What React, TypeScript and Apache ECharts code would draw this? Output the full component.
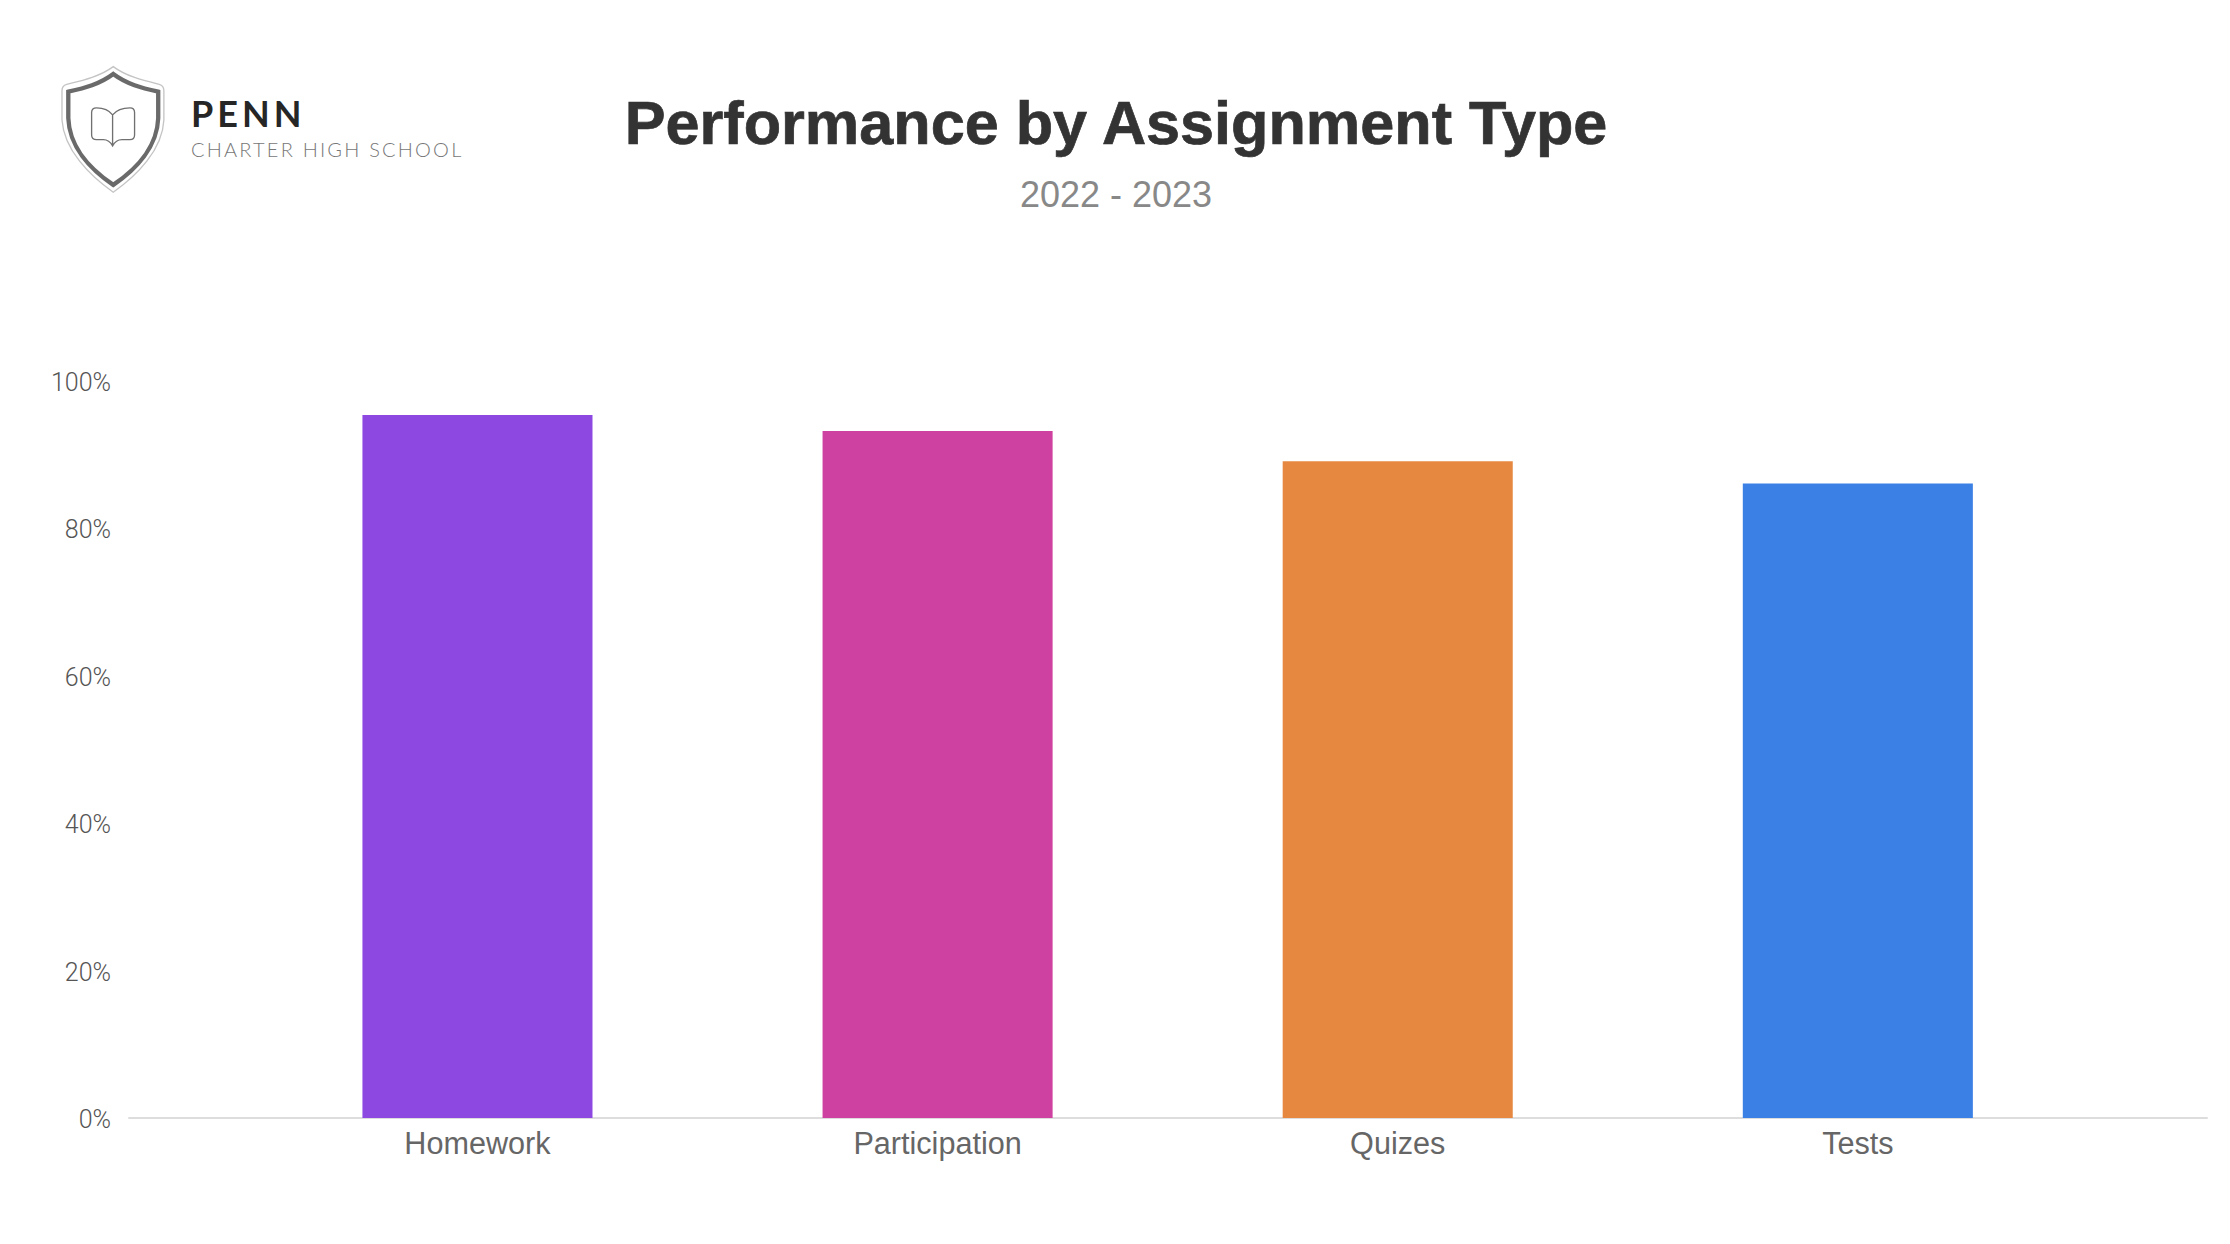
import React, { useEffect, useRef } from "react";
import * as echarts from "echarts";

const categories = ["Homework", "Participation", "Quizes", "Tests"];
const scores = [95.4, 93.2, 89.1, 86.1];
const barColors = ["#8E48E2", "#CF41A0", "#E6883F", "#3B80E4"];
const titleText = "Performance by Assignment Type";
const subtitleText = "2022 - 2023";
const logoName = "PENN";
const logoTagline = "CHARTER HIGH SCHOOL";

const shieldInner =
  "M220 72 C180 102 135 114 85 125 L85 205 C88 290 150 358 220 405 C290 358 352 290 355 205 L355 125 C305 114 260 102 220 72 Z";
const shieldOuter =
  "M220 50 C180 80 125 92 80 103 Q66 107 66 122 L66 210 C72 300 150 378 220 427 C290 378 368 300 372 210 L372 122 Q372 107 358 103 C313 92 260 80 220 50 Z";
const bookShape =
  "M218 195 C205 178 190 174 170 174 Q155 174 155 188 L155 255 Q155 269 170 269 L190 269 Q208 269 218 288 Q228 269 246 269 L270 269 Q284 269 284 255 L284 188 Q284 174 270 174 C248 174 232 178 218 195 Z M218 195 L218 286";

echarts.graphic.registerShape("shieldInner", (echarts.graphic as any).extendPath(shieldInner, {}));
echarts.graphic.registerShape("shieldOuter", (echarts.graphic as any).extendPath(shieldOuter, {}));
echarts.graphic.registerShape("bookShape", (echarts.graphic as any).extendPath(bookShape, {}));

export default function App() {
  const ref = useRef<HTMLDivElement>(null);
  useEffect(() => {
    document.body.style.margin = "0";
    document.body.style.background = "#fff";
    const chart = echarts.init(ref.current!, undefined, { renderer: "svg" });
    const logoTransform = { x: 40, y: 50, scaleX: 1 / 3, scaleY: 1 / 3 };
    const gridY = { top: 381, height: 737 };
    chart.setOption({
      animation: false,
      backgroundColor: "#ffffff",
      grid: [
        { left: 247.4, width: 1840.5, ...gridY },
        { left: 129, width: 2078, ...gridY },
      ],
      xAxis: [
        {
          type: "category",
          gridIndex: 0,
          data: categories,
          axisLine: { show: false },
          axisTick: { show: false },
          axisLabel: { fontFamily: "Liberation Sans", fontSize: 30.6, color: "#666666", margin: 9 },
        },
        {
          type: "category",
          gridIndex: 1,
          data: [],
          axisLine: { show: true, lineStyle: { color: "#dddddd", width: 2 } },
          axisTick: { show: false },
          axisLabel: { show: false },
        },
      ],
      yAxis: [
        { type: "value", gridIndex: 0, min: 0, max: 100, interval: 20, show: false },
        {
          type: "value",
          gridIndex: 1,
          min: 0,
          max: 100,
          interval: 20,
          axisLine: { show: false },
          axisTick: { show: false },
          splitLine: { show: false },
          axisLabel: {
            formatter: "{v|{value}%}",
            margin: 18,
            rich: {
              v: {
                fontFamily: "Roboto",
                fontWeight: 300,
                fontSize: 25,
                color: "#555555",
                padding: [3, 0, 0, 0],
              },
            },
          },
        },
      ],
      series: [
        {
          type: "bar",
          xAxisIndex: 0,
          yAxisIndex: 0,
          barWidth: "50%",
          data: scores.map((value, i) => ({ value, itemStyle: { color: barColors[i] } })),
        },
      ],
      graphic: [
        {
          type: "text",
          x: 1116,
          y: 123,
          style: {
            text: titleText,
            font: "bold 61.2px 'Liberation Sans'",
            fill: "#333333",
            stroke: "#333333",
            lineWidth: 0.7,
            align: "center",
            verticalAlign: "middle",
          },
        },
        {
          type: "text",
          x: 1116,
          y: 194,
          style: {
            text: subtitleText,
            font: "36px 'Liberation Sans'",
            fill: "#888888",
            align: "center",
            verticalAlign: "middle",
          },
        },
        { type: "shieldOuter", ...logoTransform, style: { fill: "none", stroke: "#c4c4c4", lineWidth: 4 } },
        { type: "shieldInner", ...logoTransform, style: { fill: "none", stroke: "#6a6a6a", lineWidth: 13 } },
        { type: "bookShape", ...logoTransform, style: { fill: "none", stroke: "#707070", lineWidth: 4 } },
        {
          type: "text",
          x: 191,
          y: 113,
          style: {
            text: logoName,
            font: "bold 36px Lato",
            fill: "#262626",
            align: "left",
            verticalAlign: "middle",
          },
        },
        {
          type: "text",
          x: 191,
          y: 149,
          style: {
            text: logoTagline,
            font: "300 20px Lato",
            fill: "#777777",
            align: "left",
            verticalAlign: "middle",
          },
        },
      ],
    });
    ref.current!.querySelectorAll("text").forEach((t) => {
      if (t.textContent === logoName) t.style.letterSpacing = "4px";
      if (t.textContent === logoTagline) t.style.letterSpacing = "2.2px";
    });
    return () => chart.dispose();
  }, []);
  return <div ref={ref} style={{ position: "absolute", left: 0, top: 0, width: 2230, height: 1244 }} />;
}
